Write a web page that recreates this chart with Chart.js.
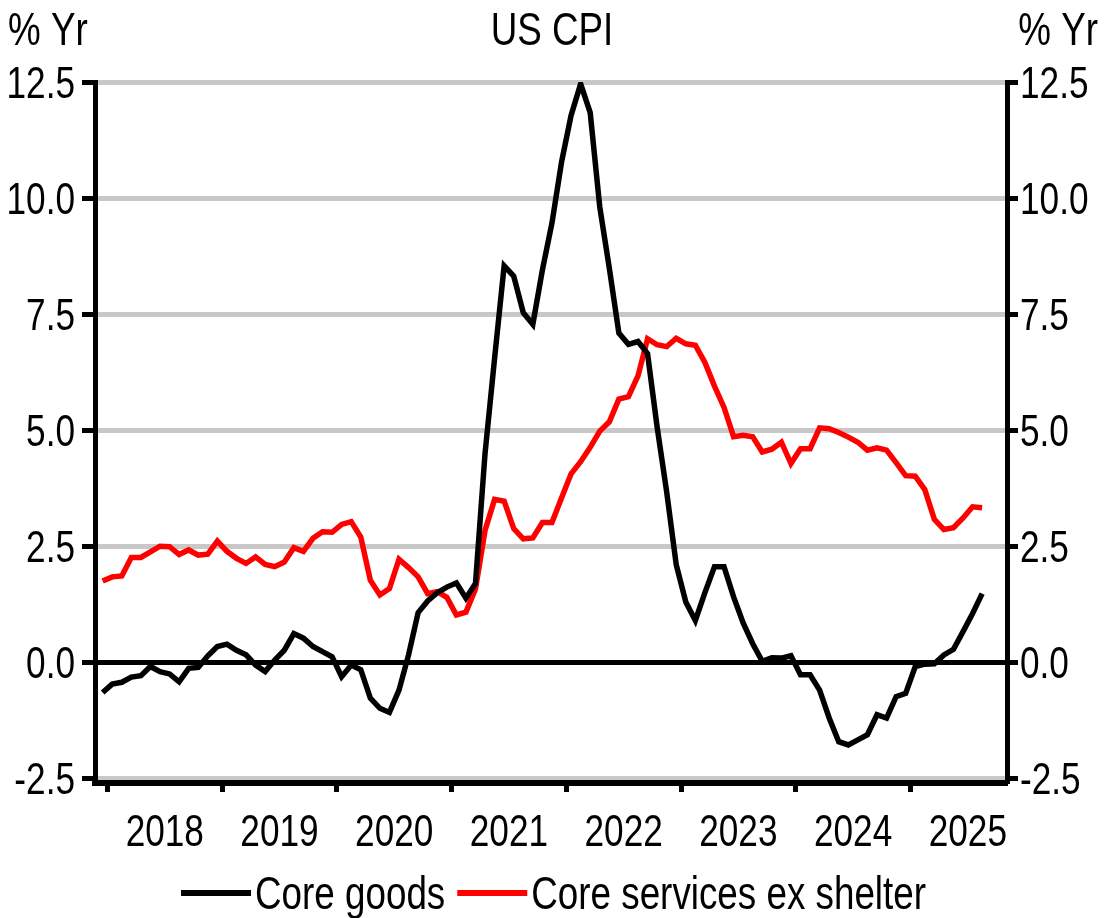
<!DOCTYPE html>
<html>
<head>
<meta charset="utf-8">
<script src="https://cdn.jsdelivr.net/npm/chart.js@4"></script>
<style>
  body { margin: 0; background: #fff; }
  #wrap { width: 1107px; height: 918px; }
</style>
</head>
<body>
<div id="wrap"><canvas id="cpiChart" width="1107" height="918"></canvas></div>
<script>
// monthly, Dec 2017 .. Aug 2025 (index 0 = Dec 2017)
let yearLabels = ['2018', '2019', '2020', '2021', '2022', '2023', '2024', '2025'];
let yTicks = [-2.5, 0, 2.5, 5, 7.5, 10, 12.5];

let coreGoods = [
    -0.65, -0.47, -0.43, -0.32, -0.29, -0.09, -0.20, -0.25, -0.42, -0.13, -0.11, 0.14,
    0.34, 0.39, 0.26, 0.16, -0.06, -0.20, 0.05, 0.26, 0.62, 0.52, 0.34, 0.23,
    0.12, -0.31, -0.06, -0.16, -0.77, -0.99, -1.08, -0.60, 0.16, 1.07, 1.32, 1.50,
    1.62, 1.71, 1.38, 1.70, 4.50, 6.55, 8.54, 8.32, 7.53, 7.28, 8.45, 9.46,
    10.77, 11.78, 12.46, 11.84, 9.81, 8.49, 7.09, 6.85, 6.91, 6.65, 5.07, 3.67,
    2.10, 1.30, 0.90, 1.50, 2.06, 2.06, 1.41, 0.85, 0.40, 0.02, 0.10, 0.09,
    0.14, -0.27, -0.27, -0.60, -1.20, -1.71, -1.78, -1.67, -1.56, -1.13, -1.20, -0.74,
    -0.67, -0.09, -0.04, -0.03, 0.16, 0.28, 0.66, 1.05, 1.48
];

let coreServicesExShelter = [
    1.75, 1.84, 1.86, 2.26, 2.26, 2.38, 2.50, 2.49, 2.32, 2.42, 2.31, 2.33,
    2.61, 2.39, 2.24, 2.13, 2.27, 2.11, 2.06, 2.16, 2.47, 2.39, 2.67, 2.81,
    2.80, 2.97, 3.03, 2.70, 1.77, 1.45, 1.59, 2.22, 2.04, 1.84, 1.48, 1.52,
    1.40, 1.02, 1.08, 1.58, 2.84, 3.51, 3.47, 2.88, 2.66, 2.68, 3.01, 3.01,
    3.54, 4.06, 4.32, 4.63, 4.98, 5.18, 5.67, 5.72, 6.17, 6.97, 6.84, 6.80,
    6.98, 6.86, 6.83, 6.46, 5.95, 5.49, 4.86, 4.89, 4.86, 4.53, 4.59, 4.74,
    4.28, 4.60, 4.60, 5.05, 5.03, 4.95, 4.85, 4.74, 4.57, 4.62, 4.57, 4.30,
    4.02, 4.01, 3.72, 3.08, 2.86, 2.90, 3.11, 3.35, 3.33
];

// no narrow font installed, so squeeze Liberation Sans horizontally
const FONT = '"Liberation Sans", Arial, sans-serif';
const SQUEEZE = 0.8;

function narrowText(ctx, text, x, y, align, size) {
    ctx.font = size + 'px ' + FONT;
    const w = ctx.measureText(text).width * SQUEEZE;
    let x0 = x;
    if (align === 'center') x0 = x - w / 2;
    if (align === 'right') x0 = x - w;
    ctx.save();
    ctx.translate(x0, y);
    ctx.scale(SQUEEZE, 1);
    ctx.textAlign = 'left';
    ctx.textBaseline = 'alphabetic';
    ctx.fillText(text, 0, 0);
    ctx.restore();
    return w;
}

// year boundaries sit half a month after each December point
function toPoints(arr) {
    return arr.map((v, i) => ({ x: i, y: v }));
}

// all text: titles, tick labels, legend
const textPlugin = {
    id: 'cpiText',
    afterDraw(chart) {
        const ctx = chart.ctx;
        const area = chart.chartArea;
        ctx.save();
        ctx.fillStyle = '#000';

        narrowText(ctx, '% Yr', 8, 45, 'left', 46);
        narrowText(ctx, 'US CPI', 552, 45, 'center', 46);
        narrowText(ctx, '% Yr', 1098, 45, 'right', 46);

        // value labels, both sides
        const ys = chart.scales.y;
        yTicks.forEach(v => {
            const py = ys.getPixelForValue(v) + 16;
            narrowText(ctx, v.toFixed(1), area.left - 20, py, 'right', 44);
            narrowText(ctx, v.toFixed(1), area.right + 13, py, 'left', 44);
        });

        // year labels centred between boundary ticks
        const xs = chart.scales.x;
        yearLabels.forEach((lab, k) => {
            narrowText(ctx, lab, xs.getPixelForValue(6.5 + 12 * k), 846, 'center', 44);
        });

        // legend
        const items = chart.data.datasets.map(d => ({ text: d.label, color: d.borderColor }));
        const lineW = 70, gap = 4, itemGap = 12;
        ctx.font = '46px ' + FONT;
        let total = 0;
        items.forEach((it, k) => {
            it.w = ctx.measureText(it.text).width * SQUEEZE;
            total += lineW + gap + it.w + (k ? itemGap : 0);
        });
        let x = (1107 - total) / 2;
        items.forEach((it, k) => {
            if (k) x += itemGap;
            ctx.strokeStyle = it.color;
            ctx.lineWidth = 6;
            ctx.beginPath();
            ctx.moveTo(x, 893);
            ctx.lineTo(x + lineW, 893);
            ctx.stroke();
            x += lineW + gap;
            ctx.fillStyle = '#000';
            x += narrowText(ctx, it.text, x, 909, 'left', 46);
        });
        ctx.restore();
    }
};

let ctx = document.getElementById('cpiChart').getContext('2d');
let cpiChart = new Chart(ctx, {
    type: 'line',
    data: {
        datasets: [{
            label: 'Core goods',
            data: toPoints(coreGoods),
            borderColor: '#000000',
            backgroundColor: '#000000',
            borderWidth: 5.5,
            pointRadius: 0,
            tension: 0,
            yAxisID: 'y'
        }, {
            label: 'Core services ex shelter',
            data: toPoints(coreServicesExShelter),
            borderColor: '#ff0000',
            backgroundColor: '#ff0000',
            borderWidth: 5.5,
            pointRadius: 0,
            tension: 0,
            yAxisID: 'y'
        }]
    },
    options: {
        responsive: false,
        animation: false,
        devicePixelRatio: 1,
        layout: { padding: { top: 82, left: 0, right: 0, bottom: 0 } },
        plugins: {
            legend: { display: false },
            title: { display: false },
            tooltip: { enabled: false }
        },
        scales: {
            x: {
                type: 'linear',
                min: -0.8,
                max: 94.6,
                afterBuildTicks(scale) {
                    const t = [];
                    for (let k = 0; k < yearLabels.length; k++) {
                        t.push({ value: 0.5 + 12 * k });
                    }
                    scale.ticks = t;
                },
                afterFit(scale) { scale.height = 135; },
                grid: {
                    drawOnChartArea: false,
                    drawTicks: true,
                    tickLength: 9,
                    tickWidth: 5,
                    tickColor: '#000'
                },
                border: { display: true, color: '#000', width: 6 },
                ticks: { display: false }
            },
            y: {
                position: 'left',
                min: -2.6,
                max: 12.5,
                afterBuildTicks(scale) { scale.ticks = yTicks.map(v => ({ value: v })); },
                afterFit(scale) { scale.width = 95; },
                grid: {
                    color: c => (c.tick && c.tick.value === 0) ? '#000' : '#c8c8c8',
                    lineWidth: 5,
                    tickLength: 13,
                    tickWidth: 5,
                    tickColor: '#000'
                },
                border: { display: true, color: '#000', width: 5 },
                ticks: { display: false }
            },
            y2: {
                position: 'right',
                min: -2.6,
                max: 12.5,
                afterBuildTicks(scale) { scale.ticks = yTicks.map(v => ({ value: v })); },
                afterFit(scale) { scale.width = 100; },
                grid: {
                    drawOnChartArea: false,
                    tickLength: 11,
                    tickWidth: 5,
                    tickColor: '#000'
                },
                border: { display: true, color: '#000', width: 5 },
                ticks: { display: false }
            }
        }
    },
    plugins: [textPlugin]
});
</script>
</body>
</html>
